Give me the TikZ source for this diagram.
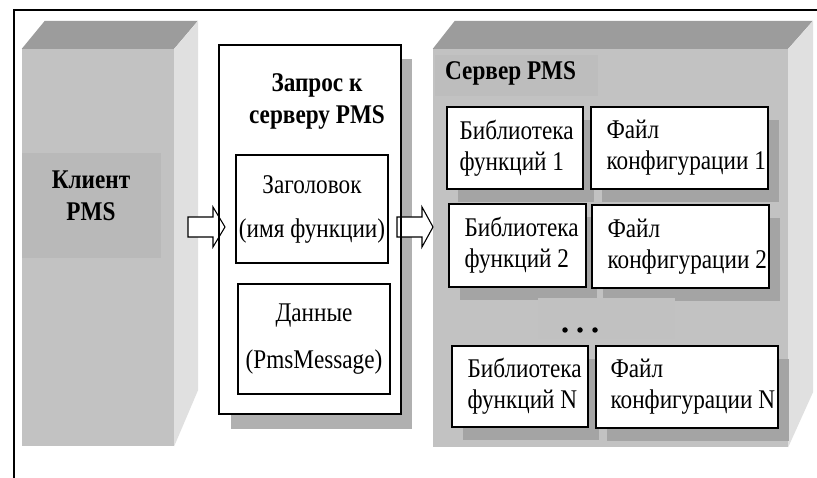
\documentclass[tikz,border=0pt]{standalone}
\usepackage{fontspec}
\setmainfont{Liberation Serif}[FakeStretch=0.86]
\usetikzlibrary{shadows,positioning}

\definecolor{frontgray}{HTML}{C2C2C2}
\definecolor{topgray}{HTML}{9C9C9C}
\definecolor{sidegray}{HTML}{E0E0E0}
\definecolor{panelgray}{HTML}{B9B9B9}
\definecolor{shadowgray}{HTML}{A4A4A4}
\definecolor{reqshadow}{HTML}{B0B0B0}

\tikzset{
  frontface/.style={fill=frontgray, draw=none, inner sep=0pt},
  topface/.style={fill=topgray, draw=none},
  sideface/.style={fill=sidegray, draw=none},
  panel/.style={fill=panelgray, draw=none, inner sep=0pt},
  whitebox/.style={draw=black, line width=1.3pt, fill=white, inner sep=0pt},
  libbox/.style={whitebox,
    drop shadow={shadow xshift=11pt, shadow yshift=-13pt, fill=shadowgray, opacity=1}},
  libtext/.style={inner sep=0pt, align=left, font=\fontsize{27}{31}\selectfont},
  boldtext/.style={inner sep=0pt, font=\fontsize{27}{32}\selectfont\bfseries},
  blockarrow/.style={draw=black, line width=1.1pt, fill=white, line join=miter},
  frameline/.style={draw=black, line width=1.5pt},
  dot/.style={circle, fill=black, inner sep=0pt, minimum size=5.5pt}
}

\begin{document}
\begin{tikzpicture}[x=1pt, y=-1pt]
\useasboundingbox (0,0) rectangle (817,478);
\fill[white] (0,0) rectangle (817,478);

% outer frame
\draw[frameline] (14,478) -- (14,10) -- (817,10);

% ---- client block ----
\node[frontface, minimum width=152pt, minimum height=397pt] (client) at (98,247.5) {};
\fill[topface] (client.north west) -- ++(23,-28) -- ++(153,0) -- (client.north east) -- cycle;
\fill[sideface] (client.north east) -- ++(24,-28) -- ++(0,369) -- (client.south east) -- cycle;
\node[panel, minimum width=139pt, minimum height=105pt] (clientpanel) at (91.5,205.5) {};
\node[boldtext, align=center] (clientname) at (91,196) {Клиент\\PMS};

% ---- server block ----
\node[frontface, minimum width=355pt, minimum height=398pt] (server) at (610.5,248) {};
\fill[topface] (server.north west) -- ++(22,-28) -- ++(358,0) -- (server.north east) -- cycle;
\fill[sideface] (server.north east) -- ++(25,-28) -- ++(0,371) -- (server.south east) -- cycle;
\node[panel, fill=panelgray!60!frontgray, minimum width=163pt, minimum height=41pt] (srvpanel) at (516.5,75.5) {};
\node[boldtext, anchor=west] (srvname) at (445,73) {Сервер PMS};

% library / configuration pairs
\node[libbox, minimum width=136pt, minimum height=82pt] (lib1) at (515,148) {};
\node[libbox, minimum width=177pt, minimum height=82pt] (cfg1) at (679.5,148) {};
\node[libtext, right=13pt of lib1.west] {Библиотека\\функций 1};
\node[libtext, right=16pt of cfg1.west] {Файл\\конфигурации 1};

\node[libbox, minimum width=137pt, minimum height=83pt] (lib2) at (517.5,245.5) {};
\node[libbox, minimum width=177pt, minimum height=83pt] (cfg2) at (680.5,246.5) {};
\node[libtext, right=16pt of lib2.west] {Библиотека\\функций 2};
\node[libtext, right=16pt of cfg2.west] {Файл\\конфигурации 2};

\node[panel, fill=frontgray!85!panelgray, minimum width=137pt, minimum height=41pt] (gap) at (606.5,318.5) {};
\node[dot] (d1) at (565,330) {};
\node[dot] (d2) at (580,330) {};
\node[dot] (d3) at (595,330) {};

\node[libbox, minimum width=136pt, minimum height=81pt] (libN) at (520,386.5) {};
\node[libbox, minimum width=182pt, minimum height=82pt] (cfgN) at (687,387) {};
\node[libtext, right=16pt of libN.west] {Библиотека\\функций N};
\node[libtext, right=15pt of cfgN.west] {Файл\\конфигурации N};

% ---- request ----
\fill[reqshadow] (231,59) rectangle (412,429);
\fill[white] (219,45) rectangle (401,414);

% block arrows
\coordinate (a1) at (188,227);
\draw[blockarrow] (a1) ++(0,-10) -- ++(25,0) -- ++(0,-10) -- ++(12,20) -- ++(-12,20) -- ++(0,-10) -- ++(-25,0) -- cycle;
\coordinate (a2) at (397,227);
\draw[blockarrow] (a2) ++(0,-10) -- ++(25,0) -- ++(0,-10) -- ++(11,20) -- ++(-11,20) -- ++(0,-10) -- ++(-25,0) -- cycle;

\node[whitebox, fill=none, minimum width=182pt, minimum height=369pt] (request) at (310,229.5) {};
\node[boldtext, align=center] (reqtitle) at (317,101) {Запрос к\\серверу PMS};

\node[whitebox, minimum width=152pt, minimum height=108pt, align=center,
      font=\fontsize{27}{44}\selectfont] (header) at (312,209) {Заголовок\\(имя функции)};
\node[whitebox, minimum width=152pt, minimum height=110pt, align=center,
      font=\fontsize{27}{47}\selectfont] (payload) at (314,339) {Данные\\(PmsMessage)};
\end{tikzpicture}
\end{document}
